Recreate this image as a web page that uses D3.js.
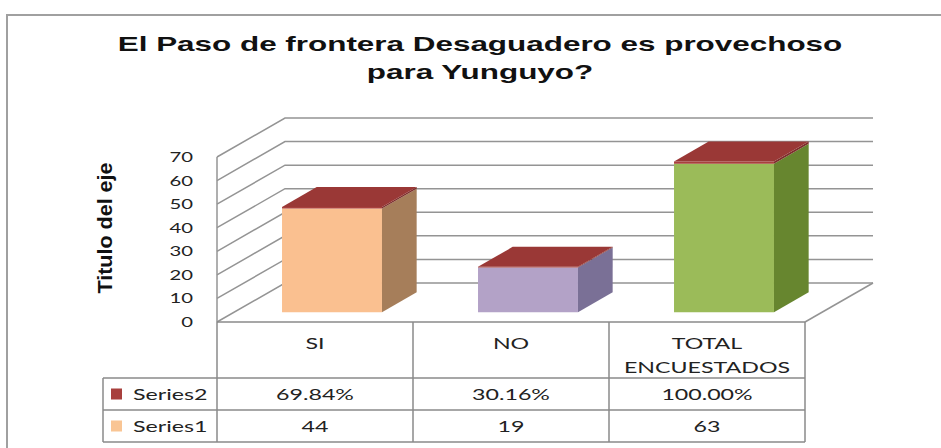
<!DOCTYPE html>
<html>
<head>
<meta charset="utf-8">
<script src="https://cdn.jsdelivr.net/npm/d3@7"></script>
<style>
  html, body { margin: 0; padding: 0; background: #fff; }
  svg { display: block; }
</style>
</head>
<body>
<script>
// data
const categories = ["SI", "NO", "TOTAL ENCUESTADOS"];
const headerLines = [["SI"], ["NO"], ["TOTAL", "ENCUESTADOS"]];
const series1 = [44, 19, 63];
const series2 = [0.6984, 0.3016, 1.0];
const series2Text = ["69.84%", "30.16%", "100.00%"];
const yTicks = [0, 10, 20, 30, 40, 50, 60, 70];
const legendNames = ["Series2", "Series1"];

// colours
const frontCol = ["#fac090", "#b3a2c7", "#9bbb59"];
const sideCol = ["#a67e5a", "#7a7096", "#67862f"];
const s2Front = "#a8403d", s2Side = "#7d2e2c", s2Top = "#9a3836";
const gridCol = "#949494";

const W = 941, H = 448;
const svg = d3.select("body").append("svg").attr("width", W).attr("height", H);

// outer frame
svg.append("path").attr("d", `M7,${H}V15H${W}`).attr("fill", "none")
  .attr("stroke", "#a0a0a0").attr("stroke-width", 2);

// 3d geometry
const x = d3.scaleBand().domain(categories).range([217, 805]);
const y = d3.scaleLinear().domain([0, 70]).range([322, 157]);
const DX = 68, DY = -39;         // full depth vector
const d0 = 0.25, d1 = 0.76;      // bar depth span
const barFrac = 0.51;
const P = (px, v, d) => [px + d * DX, y(v) + d * DY];

const kText = 1.45;
function stretched(g, px, py, s, size, anchor, k, family) {
  return g.append("text")
    .attr("transform", `translate(${px},${py}) scale(${k},1)`)
    .attr("text-anchor", anchor)
    .attr("dy", "0.36em")
    .style("font-family", family || "Lato, 'Open Sans', sans-serif")
    .style("font-size", size + "px")
    .attr("fill", "#222")
    .text(s);
}

// walls + gridlines
const grid = svg.append("g").attr("stroke", gridCol).attr("stroke-width", 1.5).attr("fill", "none");
yTicks.forEach(v => {
  const a = P(x.range()[0], v, 0), b = P(x.range()[0], v, 1), c = P(x.range()[1], v, 1);
  grid.append("path").attr("d", `M${a}L${b}L${c}`);
});
// floor right edge and value axis line
grid.append("path").attr("d", `M${P(x.range()[1], 0, 0)}L${P(x.range()[1], 0, 1)}`);
grid.append("path").attr("d", `M${P(x.range()[0], 0, 0)}L${P(x.range()[0], 70, 0)}`);

// tick labels
const ticks = svg.append("g");
yTicks.forEach(v => stretched(ticks, 193, y(v), v, 14, "end", kText));

// axis title
svg.append("text")
  .attr("transform", "translate(105,228) rotate(-90)")
  .attr("text-anchor", "middle").attr("dy", "0.36em")
  .attr("textLength", 131).attr("lengthAdjust", "spacingAndGlyphs")
  .style("font-family", "'Liberation Sans Narrow', 'Arial Narrow', 'Liberation Sans', Arial, sans-serif")
  .style("font-weight", "bold").style("font-size", "20px").attr("fill", "#111")
  .text("Titulo del eje");

// bars
const bars = svg.append("g");
categories.forEach((c, i) => {
  const bw = x.bandwidth() * barFrac;
  const bx = x(c) + (x.bandwidth() - bw) / 2;
  const segs = [
    { lo: 0, hi: series1[i], front: frontCol[i], side: sideCol[i] },
    { lo: series1[i], hi: series1[i] + series2[i], front: s2Front, side: s2Side }
  ];
  segs.forEach(s => {
    const f = [P(bx, s.lo, d0), P(bx + bw, s.lo, d0), P(bx + bw, s.hi, d0), P(bx, s.hi, d0)];
    bars.append("path").attr("d", "M" + f.join("L") + "Z").attr("fill", s.front);
    const sd = [P(bx + bw, s.lo, d0), P(bx + bw, s.lo, d1), P(bx + bw, s.hi, d1), P(bx + bw, s.hi, d0)];
    bars.append("path").attr("d", "M" + sd.join("L") + "Z").attr("fill", s.side);
  });
  const top = series1[i] + series2[i];
  const t = [P(bx, top, d0), P(bx + bw, top, d0), P(bx + bw, top, d1), P(bx, top, d1)];
  bars.append("path").attr("d", "M" + t.join("L") + "Z").attr("fill", s2Top);
});

// data table
const tbl = svg.append("g");
const x0 = x.range()[0], x1 = x.range()[1], lx = 103;
const rows = [322, 378, 410, 442];
const lines = tbl.append("g").attr("stroke", "#8a8a8a").attr("stroke-width", 1.5).attr("fill", "none");
lines.append("line").attr("x1", x0).attr("x2", x1).attr("y1", rows[0]).attr("y2", rows[0]);
rows.slice(1).forEach(ry => lines.append("line").attr("x1", lx).attr("x2", x1).attr("y1", ry).attr("y2", ry));
categories.forEach(c => lines.append("line").attr("x1", x(c)).attr("x2", x(c)).attr("y1", rows[0]).attr("y2", rows[3]));
lines.append("line").attr("x1", x1).attr("x2", x1).attr("y1", rows[0]).attr("y2", rows[3]);
lines.append("line").attr("x1", lx).attr("x2", lx).attr("y1", rows[1]).attr("y2", rows[3]);

categories.forEach((c, i) => {
  const cx = x(c) + x.bandwidth() / 2;
  headerLines[i].forEach((s, j) => stretched(tbl, cx, 343 + j * 24, s, 16, "middle", kText));
  stretched(tbl, cx, 394, series2Text[i], 16, "middle", kText);
  stretched(tbl, cx, 426, series1[i], 16, "middle", kText);
});

// legend keys in table
const legCols = [s2Front, "#f9c594"];
legendNames.forEach((n, j) => {
  const cy = (rows[j + 1] + rows[j + 2]) / 2;
  tbl.append("rect").attr("x", 111).attr("y", cy - 5.5).attr("width", 11).attr("height", 11).attr("fill", legCols[j]);
  stretched(tbl, 133, cy, n, 16, "start", kText);
});

// title, stretched to the reference width
const title = svg.append("g").style("font-weight", "bold");
const tf = "'Liberation Sans', Arial, sans-serif";
const t1 = stretched(title, 480, 44, "El Paso de frontera Desaguadero es provechoso", 20, "middle", 1, tf).attr("fill", "#111");
const kT = 725 / t1.node().getComputedTextLength();
t1.attr("transform", `translate(480,44) scale(${kT},1)`);
stretched(title, 480, 72, "para Yunguyo?", 20, "middle", kT, tf).attr("fill", "#111");
</script>
</body>
</html>
